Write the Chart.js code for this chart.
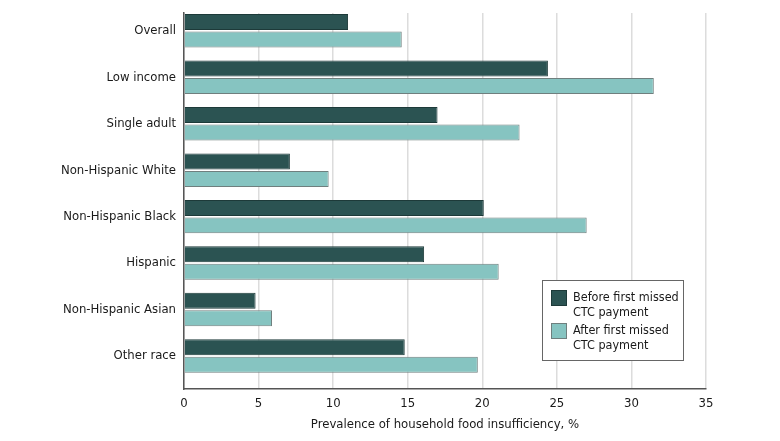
<!DOCTYPE html>
<html>
<head>
<meta charset="utf-8">
<script src="https://cdn.jsdelivr.net/npm/chart.js@4/dist/chart.umd.min.js"></script>
<style>
  html, body { margin: 0; padding: 0; background: #fff; }
  #wrap { width: 780px; height: 441px; position: relative; }
</style>
</head>
<body>
<div id="wrap"><canvas id="chart" width="780" height="441"></canvas></div>
<script>
    const groups = ["Overall", "Low income", "Single adult", "Non-Hispanic White", "Non-Hispanic Black", "Hispanic", "Non-Hispanic Asian", "Other race"];
    const before = [11.0, 24.4, 17.0, 7.1, 20.1, 16.1, 4.8, 14.8];
    const after = [14.6, 31.5, 22.5, 9.7, 27.0, 21.1, 5.9, 19.7];
    const seriesNames = [["Before first missed", "CTC payment"], ["After first missed", "CTC payment"]];
    const xTicks = [0, 5, 10, 15, 20, 25, 30, 35];

    const FONT = "'DejaVu Sans Condensed', 'Liberation Sans Narrow', sans-serif";
    const dark = "#2b5352", light = "#86c4c1";

    const toPoints = arr => arr.map((v, i) => ({ x: v, y: i }));

    // legend box drawn inside the plot, lower right
    const boxLegend = {
      id: "boxLegend",
      afterDraw(chart) {
        const { ctx } = chart;
        const left = Math.round(chart.scales.x.getPixelForValue(24.0));
        const top = Math.round(chart.scales.y.getPixelForValue(5.37));
        const w = 141, h = 80;
        ctx.save();
        ctx.fillStyle = "#fff";
        ctx.fillRect(left, top, w, h);
        ctx.strokeStyle = "#666";
        ctx.lineWidth = 1;
        ctx.strokeRect(left + 0.5, top + 0.5, w, h);
        ctx.font = "12.5px " + FONT;
        ctx.textBaseline = "middle";
        chart.data.datasets.forEach((ds, i) => {
          const sy = top + 10 + i * 33;
          ctx.fillStyle = ds.backgroundColor;
          ctx.fillRect(left + 9, sy, 16, 16);
          ctx.strokeStyle = ds.borderColor;
          ctx.strokeRect(left + 9.5, sy + 0.5, 15, 15);
          ctx.fillStyle = "#1a1a1a";
          seriesNames[i].forEach((line, j) => ctx.fillText(line, left + 31, sy + 8 + j * 15));
        });
        ctx.restore();
      }
    };

    new Chart(document.getElementById("chart"), {
      type: "bar",
      data: {
        datasets: [
          { label: seriesNames[0].join(" "), data: toPoints(before), backgroundColor: dark, borderColor: "#1d3a39", borderWidth: 1 },
          { label: seriesNames[1].join(" "), data: toPoints(after), backgroundColor: light, borderColor: "#6f7f7e", borderWidth: 1 }
        ]
      },
      options: {
        indexAxis: "y",
        responsive: false,
        animation: false,
        devicePixelRatio: 1,
        categoryPercentage: 0.753,
        barPercentage: 0.914,
        layout: { padding: { top: 13, right: 74, left: 0, bottom: 0 } },
        plugins: { legend: { display: false }, tooltip: { enabled: false } },
        scales: {
          x: {
            type: "linear",
            min: 0, max: 35,
            afterBuildTicks: s => { s.ticks = xTicks.map(v => ({ value: v })); },
            afterFit: s => { s.height = 52; },
            grid: { color: "#dcdcdc", lineWidth: 1.5, drawTicks: false },
            border: { color: "#555", width: 1.5 },
            ticks: { color: "#1a1a1a", font: { family: FONT, size: 13 }, padding: 7, maxRotation: 0 },
            title: {
              display: true,
              text: "Prevalence of household food insufficiency, %",
              color: "#1a1a1a",
              font: { family: FONT, size: 13 },
              padding: { top: 0, bottom: 9 }
            }
          },
          y: {
            type: "linear",
            reverse: true,
            offset: false,
            min: -0.383, max: 7.71,
            afterBuildTicks: s => { s.ticks = groups.map((_, i) => ({ value: i })); },
            afterFit: s => { s.width = 184; },
            grid: { display: false, offset: false },
            border: { color: "#555", width: 1.5 },
            ticks: {
              color: "#1a1a1a",
              font: { family: FONT, size: 13 },
              padding: 0,
              autoSkip: false,
              callback: v => groups[v]
            }
          }
        }
      },
      plugins: [boxLegend]
    });
</script>
</body>
</html>
